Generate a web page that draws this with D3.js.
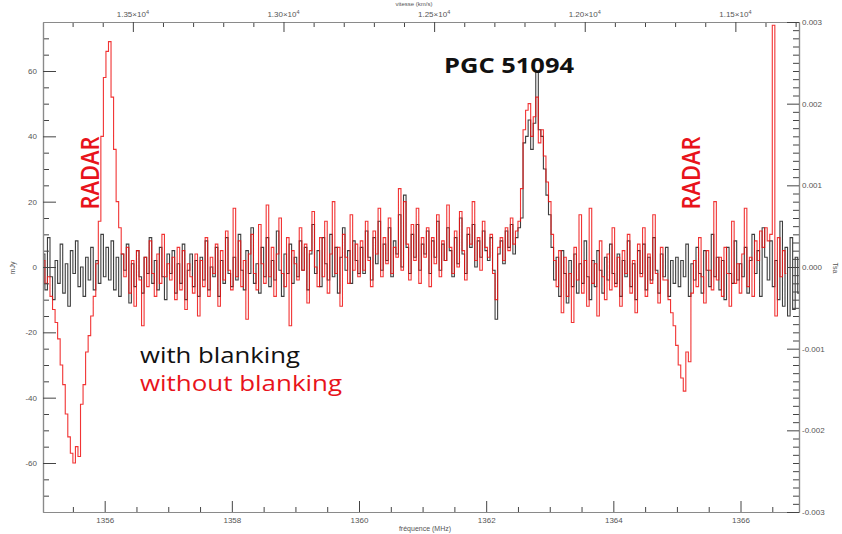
<!DOCTYPE html>
<html><head><meta charset="utf-8">
<script src="https://cdn.jsdelivr.net/npm/d3@7"></script>
<style>body{margin:0;background:#fff}svg{display:block}</style>
</head><body><svg id="c" width="842" height="534"></svg>
<script>
// Spectrum channels: first channel frequency (MHz) and spacing
const startFreq = 1355.04, chanStep = 0.04;
// "with blanking" flux density (mJy), one row per MHz
const blankedRows = [
 [4,-7,9,-3,-10,2,-5,7,-8,1,-12,5,-2,8,-6,0,-9,3,-4,6,-7,2,-5,10,-3],
 [6,-4,8,-7,3,-9,4,-1,7,-11,1,-6,5,-3,-8,3,-2,9,-5,2,-7,6,-3,-10,4],
 [-2,5,-8,1,-5,7,-10,-1,4,-6,2,-9,3,-4,8,-7,0,-3,6,-9,2,-5,9,-2,-6],
 [3,-4,10,-1,-7,5,-2,12,-5,1,-8,6,-3,9,-6,2,-4,11,-1,-9,4,-2,7,-5,3],
 [-3,8,-1,6,-7,4,13,-2,5,-6,9,1,-4,10,-3,6,-8,3,12,-1,5,-5,8,2,-2],
 [6,-2,11,3,-4,9,1,14,-1,7,2,12,-3,8,4,16,0,22,6,-2,10,3,13,-1,7],
 [4,11,-2,8,3,14,-1,7,2,12,5,-3,9,1,15,4,-2,10,6,13,0,8,3,11,5],
 [2,9,-1,-16,4,8,1,11,6,13,4,9,12,15,38,40,45,36,44,60,42,40,30,22,16],
 [6,-4,3,-9,5,-2,-11,2,-6,4,-8,1,-5,8,-3,-10,2,-6,5,-1,-8,3,-4,7,-2],
 [-5,4,-9,2,-3,8,-6,1,-10,5,-2,7,-7,3,-4,9,-1,-8,4,-3,6,-9,2,-5,3],
 [-6,2,-3,7,-9,1,-4,6,-2,-8,5,-1,-6,10,-3,3,-7,2,-10,6,-2,-5,8,-4,1],
 [-3,6,-8,2,10,-2,5,-9,12,3,-4,8,-6,2,-10,14,-12,6,-15,9,-13,3,-8]
];
// "without blanking" flux density (mJy), one row per MHz
const unblankedRows = [
 [2,-5,-3,-9,-13,-17,-22,-30,-36,-45,-52,-57,-60,-55,-58,-42,-36,-26,-21,-15,-9,1,14,40,58],
 [66,69,52,36,20,12,4,-3,6,-8,2,-12,5,-4,-18,3,-6,8,-2,-9,4,-5,10,-3,1],
 [-4,3,-10,6,-7,5,-13,1,-3,-8,4,-15,2,-6,9,-9,3,-2,7,-12,5,-4,11,-1,-7],
 [18,-3,8,-6,2,-16,4,10,-2,-7,13,1,-5,19,-3,6,-9,4,15,-2,-6,9,-18,5,1],
 [-4,12,-1,7,-11,5,17,0,-6,9,-3,14,-8,4,20,-2,6,-12,10,3,-5,16,-1,7,-3],
 [8,-1,14,2,-6,11,4,18,-3,9,1,15,-2,6,3,24,-1,20,7,-4,13,2,18,-5,9],
 [3,12,-6,9,1,16,-3,8,2,19,6,-2,11,0,17,5,-4,12,7,20,2,9,-1,14,6],
 [3,10,-2,-10,6,9,2,12,5,15,7,11,14,24,42,48,50,40,46,52,38,42,34,26,20],
 [10,2,-6,5,-14,3,-9,-2,-17,6,-4,16,-8,2,-12,18,-5,1,-15,8,-3,-10,4,-7,12],
 [-6,3,-12,5,-2,10,-8,2,-14,7,-3,12,-9,4,-5,16,-2,-11,6,-4,-4,-10,-14,-18,-24],
 [-30,-34,-38,-26,-29,-8,2,-6,9,-3,-11,5,-1,-7,20,-4,3,-9,6,-2,-12,14,-5,1,-8],
 [4,18,-6,3,-9,8,2,11,6,12,8,10,74,-15,9,-3,5,-2]
];
const freqTicks = [1356,1358,1360,1362,1364,1366];
const fluxTicks = [-60,-40,-20,0,20,40,60];
const tempTicks = [-0.003,-0.002,-0.001,0,0.001,0.002,0.003];
const velTicks = [13500,13000,12500,12000,11500];
const velLabels = ["1.35×10","1.30×10","1.25×10","1.20×10","1.15×10"];

const toSeries = rows => rows.flat().map((v,i)=>({f:startFreq+chanStep*i, v}));
const blanked = toSeries(blankedRows), unblanked = toSeries(unblankedRows);

const svg = d3.select("#c");
const L=43, R=799, T=22, B=512;
const x = d3.scaleLinear().domain([1355.03,1366.92]).range([L,R]);
const yL = d3.scaleLinear().domain([-75,75]).range([B,T]);
const yR = d3.scaleLinear().domain([-0.003,0.003]).range([B,T]);
const f0=1420.405752, c=299792.458;
const vel = f => c*(1-f/f0);
const xv = d3.scaleLinear().domain([vel(1355.03),vel(1366.92)]).range([L,R]);

const axisCol="#8a8a8a", txtCol="#555";
const font="'Liberation Sans', Arial, sans-serif";
function style(g){
  g.selectAll(".domain").attr("stroke",axisCol).attr("stroke-width",1.2);
  g.selectAll(".tick line").attr("stroke","#444").attr("stroke-width",1);
  g.selectAll("text").attr("fill",txtCol).attr("font-family",font).attr("font-size",8);
}
// lines
const line = d3.line().x(d=>x(d.f)).y(d=>yL(d.v)).curve(d3.curveStep);
svg.append("path").datum(blanked).attr("d",line).attr("fill","none")
  .attr("stroke","#1c1c1c").attr("stroke-width",1.1).attr("stroke-opacity",0.85);
svg.append("path").datum(unblanked).attr("d",line).attr("fill","none")
  .attr("stroke","#ee1010").attr("stroke-width",1.1).attr("stroke-opacity",0.85);

// bottom
const minorF = d3.range(1355.5,1366.9,0.5).filter(v=>!freqTicks.includes(v));
svg.append("g").attr("transform",`translate(0,${B})`)
  .call(d3.axisBottom(x).tickValues(minorF).tickSize(-5).tickSizeOuter(0).tickFormat("")).call(style);
svg.append("g").attr("transform",`translate(0,${B})`)
  .call(d3.axisBottom(x).tickValues(freqTicks).tickSize(-11).tickSizeOuter(0).tickPadding(5).tickFormat(d3.format("d"))).call(style);
// top
const minorV = d3.range(11300,13800,100).filter(v=>!velTicks.includes(v));
svg.append("g").attr("transform",`translate(0,${T})`)
  .call(d3.axisTop(xv).tickValues(minorV).tickSize(-5).tickSizeOuter(0).tickFormat("")).call(style);
svg.append("g").attr("transform",`translate(0,${T})`)
  .call(d3.axisTop(xv).tickValues(velTicks).tickSize(-10).tickSizeOuter(0).tickFormat("")).call(style);
velTicks.forEach((v,i)=>{
  const t = svg.append("text").attr("x",xv(v)).attr("y",17).attr("text-anchor","middle")
    .attr("fill",txtCol).attr("font-family",font).attr("font-size",8).text(velLabels[i]);
  t.append("tspan").attr("dy",-3).attr("font-size",5.5).text("4");
});
// left
const minorY = d3.range(-70,75,5).filter(v=>v%20!==0);
svg.append("g").attr("transform",`translate(${L},0)`)
  .call(d3.axisLeft(yL).tickValues(minorY).tickSize(-6).tickSizeOuter(0).tickFormat("")).call(style);
svg.append("g").attr("transform",`translate(${L},0)`)
  .call(d3.axisLeft(yL).tickValues(fluxTicks).tickSize(-13).tickSizeOuter(0).tickPadding(6).tickFormat(d=>String(d))).call(style);
// right
const minorT = d3.range(-29,30,1).filter(v=>v%10!==0).map(v=>v/10000);
svg.append("g").attr("transform",`translate(${R},0)`)
  .call(d3.axisRight(yR).tickValues(minorT).tickSize(-6).tickSizeOuter(0).tickFormat("")).call(style);
svg.append("g").attr("transform",`translate(${R},0)`)
  .call(d3.axisRight(yR).tickValues(tempTicks).tickSize(-12).tickSizeOuter(0).tickPadding(3)
  .tickFormat(d=>d.toFixed(3).replace("-0.000","0.000"))).call(style);

// axis titles
svg.append("text").attr("x",425).attr("y",531).attr("text-anchor","middle")
  .attr("fill",txtCol).attr("font-family",font).attr("font-size",7).text("fréquence (MHz)");
svg.append("text").attr("transform","translate(15,268) rotate(-90)").attr("text-anchor","middle")
  .attr("fill",txtCol).attr("font-family",font).attr("font-size",7).text("mJy");
svg.append("text").attr("transform","translate(833,268) rotate(90)").attr("text-anchor","middle")
  .attr("fill",txtCol).attr("font-family",font).attr("font-size",7).text("Tsa");
svg.append("text").attr("x",414).attr("y",6).attr("text-anchor","middle")
  .attr("fill",txtCol).attr("font-family",font).attr("font-size",6).text("vitesse (km/s)");

// annotations
const ann = "'Open Sans', 'DejaVu Sans', sans-serif";
[[90,173],[691,173]].forEach(([cx,cy])=>{
  svg.append("text").attr("transform",`translate(${cx+9},${cy}) rotate(-90)`).attr("text-anchor","middle")
   .attr("fill","#e8131b").attr("font-family",ann).attr("font-weight",600).attr("font-size",25)
   .attr("textLength",73).attr("lengthAdjust","spacingAndGlyphs").text("RADAR");
});
svg.append("text").attr("x",444).attr("y",73).attr("fill","#111").attr("font-family",ann)
  .attr("font-weight",700).attr("font-size",22).attr("textLength",130).attr("lengthAdjust","spacingAndGlyphs").text("PGC 51094");
svg.append("text").attr("x",140).attr("y",363).attr("fill","#111").attr("font-family",ann)
  .attr("font-size",22).attr("textLength",160).attr("lengthAdjust","spacingAndGlyphs").text("with blanking");
svg.append("text").attr("x",140).attr("y",391).attr("fill","#e8131b").attr("font-family",ann)
  .attr("font-size",22).attr("textLength",202).attr("lengthAdjust","spacingAndGlyphs").text("without blanking");
</script></body></html>
